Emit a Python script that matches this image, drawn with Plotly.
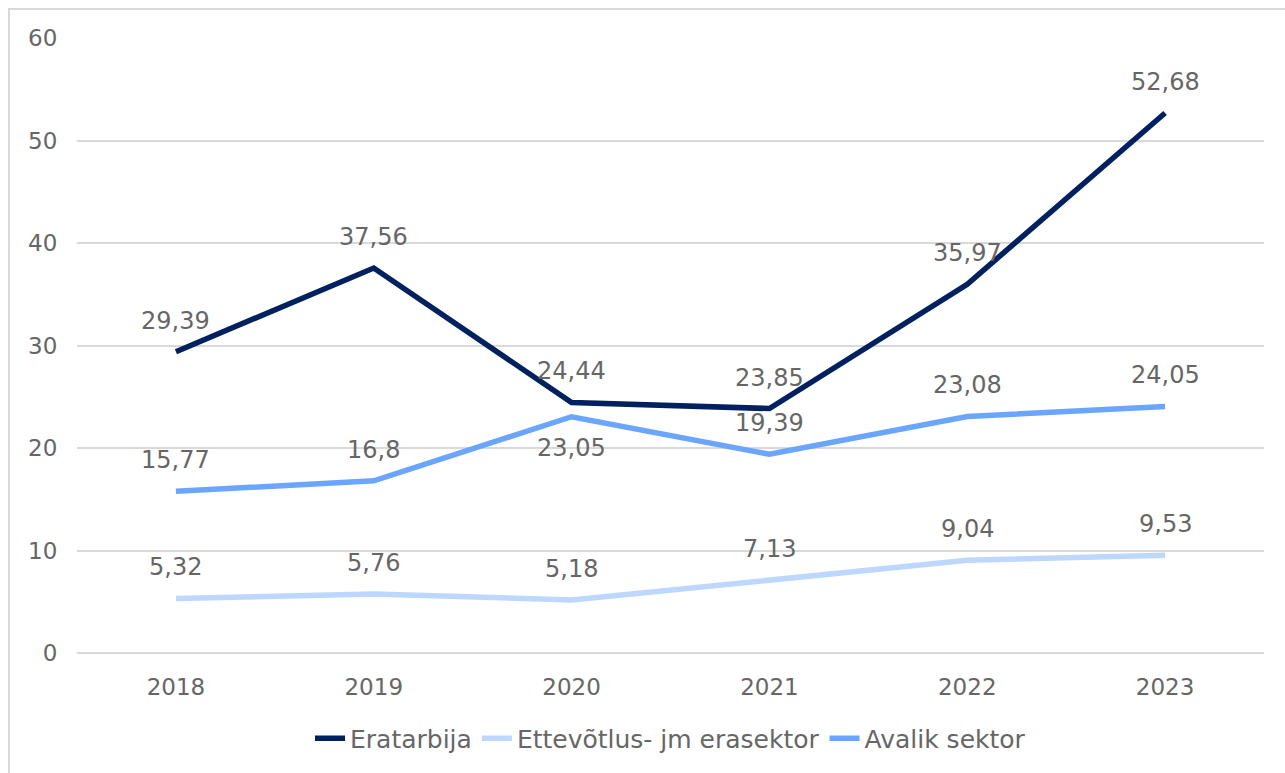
import plotly.graph_objects as go

years = ["2018", "2019", "2020", "2021", "2022", "2023"]
eratarbija = [29.39, 37.56, 24.44, 23.85, 35.97, 52.68]
ettevotlus = [5.32, 5.76, 5.18, 7.13, 9.04, 9.53]
avalik = [15.77, 16.8, 23.05, 19.39, 23.08, 24.05]
y_ticks = [0, 10, 20, 30, 40, 50, 60]

series = [
    ("Eratarbija", eratarbija, "#002060", [1, 1, 1, 1, 1, 1]),
    ("Ettevõtlus- jm erasektor", ettevotlus, "#BDD7FF", [1, 1, 1, 1, 1, 1]),
    ("Avalik sektor", avalik, "#6AA5FF", [1, 1, -1, 1, 1, 1]),
]

FONT = "Verdana, DejaVu Sans, sans-serif"
TXT = "#666666"

fig = go.Figure()
annotations = []
for name, vals, color, side in series:
    fig.add_trace(go.Scatter(x=years, y=vals, name=name, mode="lines",
                             line=dict(color=color, width=5.5), hoverinfo="x+y"))
    for i, (v, s) in enumerate(zip(vals, side)):
        annotations.append(dict(x=i, y=v, xref="x", yref="y",
                                text=f"{v:g}".replace(".", ","), showarrow=False,
                                yshift=31 * s,
                                font=dict(family=FONT, size=24, color=TXT)))

fig.update_layout(
    width=1285, height=773,
    margin=dict(l=77, r=21, t=38, b=117),
    paper_bgcolor="white", plot_bgcolor="white",
    annotations=annotations,
    shapes=[dict(type="rect", xref="paper", yref="paper",
                 x0=-0.0573, x1=1.05, y0=-0.3, y1=1.047,
                 line=dict(color="#D9D9D9", width=2), fillcolor="rgba(0,0,0,0)",
                 layer="below")],
    showlegend=True,
    legend=dict(orientation="h", x=0.5, xanchor="center", y=-0.139, yanchor="middle",
                font=dict(family=FONT, size=25, color=TXT),
                itemwidth=30, tracegroupgap=0),
    xaxis=dict(type="category", range=[-0.5, 5.5], showgrid=False, zeroline=False,
               showline=False, ticks="outside", ticklen=13, tickcolor="rgba(0,0,0,0)",
               tickfont=dict(family=FONT, size=23, color=TXT)),
    yaxis=dict(range=[0, 60], tickvals=y_ticks, showgrid=True, gridcolor="#D9D9D9",
               gridwidth=2, zeroline=True, zerolinecolor="#D9D9D9", zerolinewidth=2,
               showline=False, ticks="outside", ticklen=14, tickcolor="rgba(0,0,0,0)",
               tickfont=dict(family=FONT, size=23, color=TXT)),
)

fig.write_html("out.html", config={"displayModeBar": False},
               post_script="document.body.style.margin='0';document.body.style.overflow='hidden';")
